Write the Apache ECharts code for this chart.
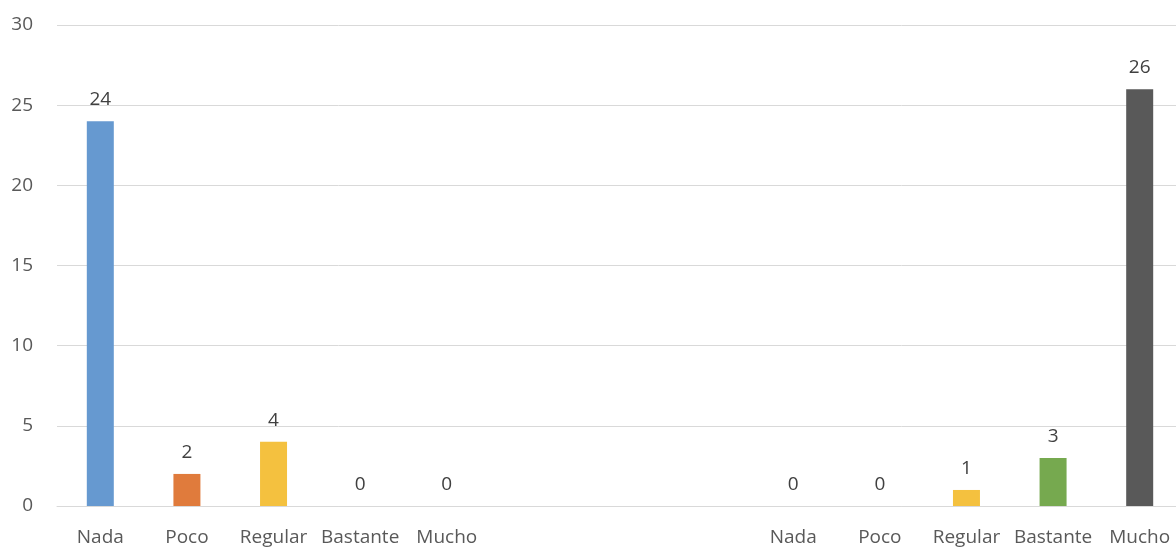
<!DOCTYPE html>
<html>
<head>
<meta charset="utf-8">
<script src="https://cdn.jsdelivr.net/npm/echarts@6/dist/echarts.min.js"></script>
<style>
html,body{margin:0;padding:0;background:#fff;overflow:hidden;width:1176px;height:547px;}
#c{width:1183px;height:547px;}
</style>
</head>
<body>
<div id="c"></div>
<script>
// Categories: two groups of five, with three empty spacer slots between them
const categories = ['Nada','Poco','Regular','Bastante','Mucho','','','','Nada','Poco','Regular','Bastante','Mucho'];
const values = [24, 2, 4, 0, 0, null, null, null, 0, 0, 1, 3, 26];
const barColors = ['#6699D0','#E07B3C','#F4C13F','#76A94F','#595959','#ffffff','#ffffff','#ffffff','#6699D0','#E07B3C','#F4C13F','#76A94F','#595959'];
const yTicks = [0, 5, 10, 15, 20, 25, 30];

const font = '"Open Sans", "Liberation Sans", sans-serif';
const chart = echarts.init(document.getElementById('c'), null, {renderer:'canvas'});
chart.setOption({
  animation: false,
  backgroundColor: '#ffffff',
  grid: {left: 57, right: 0, top: 25, bottom: 41, containLabel: false},
  xAxis: {
    type: 'category',
    data: categories,
    axisLine: {show: true, lineStyle: {color: '#D9D9D9', width: 1}},
    axisTick: {show: false},
    axisLabel: {color: '#595959', fontSize: 19, fontFamily: font, margin: 22, interval: 0}
  },
  yAxis: {
    type: 'value',
    min: yTicks[0],
    max: yTicks[yTicks.length - 1],
    interval: 5,
    axisLine: {show: false},
    axisTick: {show: false},
    splitLine: {lineStyle: {color: '#D9D9D9', width: 1}},
    axisLabel: {color: '#595959', fontSize: 19, fontFamily: font, margin: 24}
  },
  series: [{
    type: 'bar',
    barWidth: 27,
    data: values.map((v, i) => ({value: v, itemStyle: {color: barColors[i]}})),
    label: {
      show: true,
      position: 'top',
      distance: 12,
      color: '#404040',
      fontSize: 19,
      fontFamily: font,
      formatter: p => (p.value === null || p.value === undefined) ? '' : String(p.value)
    }
  }]
});
</script>
</body>
</html>
